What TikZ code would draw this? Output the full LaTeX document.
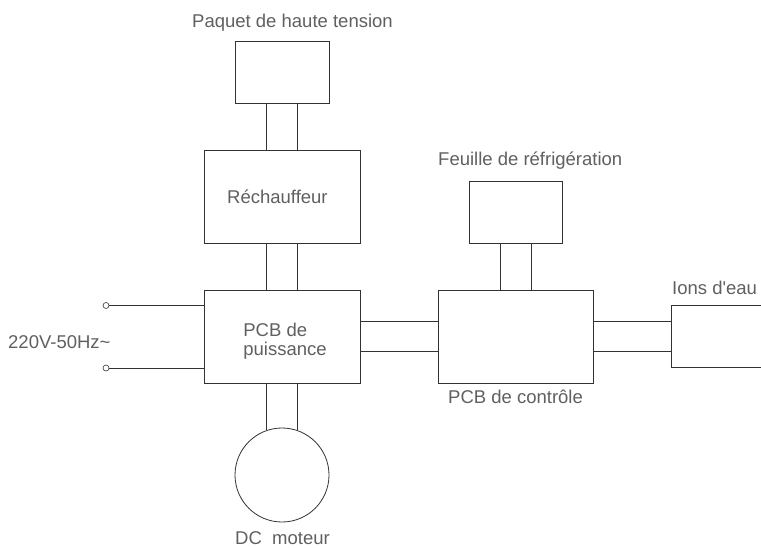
\documentclass[tikz,border=0pt]{standalone}
\usepackage{fontspec}
\setmainfont{Liberation Sans}
\definecolor{txtgray}{HTML}{606060}
\definecolor{linegray}{HTML}{333333}
\newcommand{\straightapos}{\XeTeXglyph\XeTeXglyphindex "quotesingle"\relax}
\begin{document}
\begin{tikzpicture}[x=1pt,y=-1pt,
  box/.style={draw=linegray,line width=0.8pt,rectangle,inner sep=0pt},
  lbl/.style={text=txtgray,font=\fontsize{18.5}{19}\selectfont,inner sep=0pt},
  wire/.style={draw=linegray,line width=0.8pt},
  term/.style={draw=linegray,line width=0.6pt,circle,inner sep=0pt,minimum size=6pt,fill=white}]
\useasboundingbox[fill=white] (0,0) rectangle (761,547);
% boxes
\node[box,minimum width=94pt,minimum height=62pt] (paq) at (282,72) {};
\node[box,minimum width=156pt,minimum height=93pt] (rech) at (282,196.5) {};
\node[box,minimum width=156pt,minimum height=93pt] (puis) at (282,336.5) {};
\node[box,minimum width=155pt,minimum height=93pt] (ctrl) at (515.5,336.5) {};
\node[box,minimum width=93pt,minimum height=62pt] (feuil) at (515.5,212) {};
\node[rectangle,inner sep=0pt,minimum width=100pt,minimum height=61pt] (ions) at (722,336.5) {};
\node[box,circle,minimum size=94pt] (mot) at (282,475) {};
\node[term] (t1) at (106,305.5) {};
\node[term] (t2) at (106,368) {};
% texts
\node[lbl,anchor=base west] (paql) at (192,27) {Paquet de haute tension};
\node[lbl,anchor=base west] (rechl) at (227,203) {Réchauffeur};
\node[lbl,align=left] (puisl) at (285,341) {PCB de\\puissance};
\node[lbl,anchor=base west] (feuill) at (438,165) {Feuille de réfrigération};
\node[lbl,anchor=base west] (ionsl) at (672,294) {Ions d\straightapos eau};
\node[lbl,anchor=base west] (ctrll) at (448,403) {PCB de contrôle};
\node[lbl,anchor=base west] (motl) at (235,544) {DC\ \ moteur};
\node[lbl,anchor=base west] (vl) at (8,348) {220V-50Hz\char`~};
% Ions box (open on the right)
\draw[wire] (ions.north east) -- (ions.north west) -- (ions.south west) -- (ions.south east);
% connectors
\foreach \dx in {-15.5,15.5} {
  \draw[wire] ([xshift=\dx pt]paq.south) -- ([xshift=\dx pt]rech.north);
  \draw[wire] ([xshift=\dx pt]rech.south) -- ([xshift=\dx pt]puis.north);
  \draw[wire] ([xshift=\dx pt]feuil.south) -- ([xshift=\dx pt]ctrl.north);
  \draw[wire] ([xshift=\dx pt]puis.south) -- ([xshift=\dx pt]puis.south |- mot.71.2);
}
\foreach \dy in {-15,15.5} {
  \draw[wire] ([yshift=\dy pt]puis.east) -- ([yshift=\dy pt]ctrl.west);
  \draw[wire] ([yshift=\dy pt]ctrl.east) -- ([yshift=\dy pt]ions.west);
}
\draw[wire] (t1) -- (t1 -| puis.west);
\draw[wire] (t2) -- (t2 -| puis.west);
\end{tikzpicture}
\end{document}
